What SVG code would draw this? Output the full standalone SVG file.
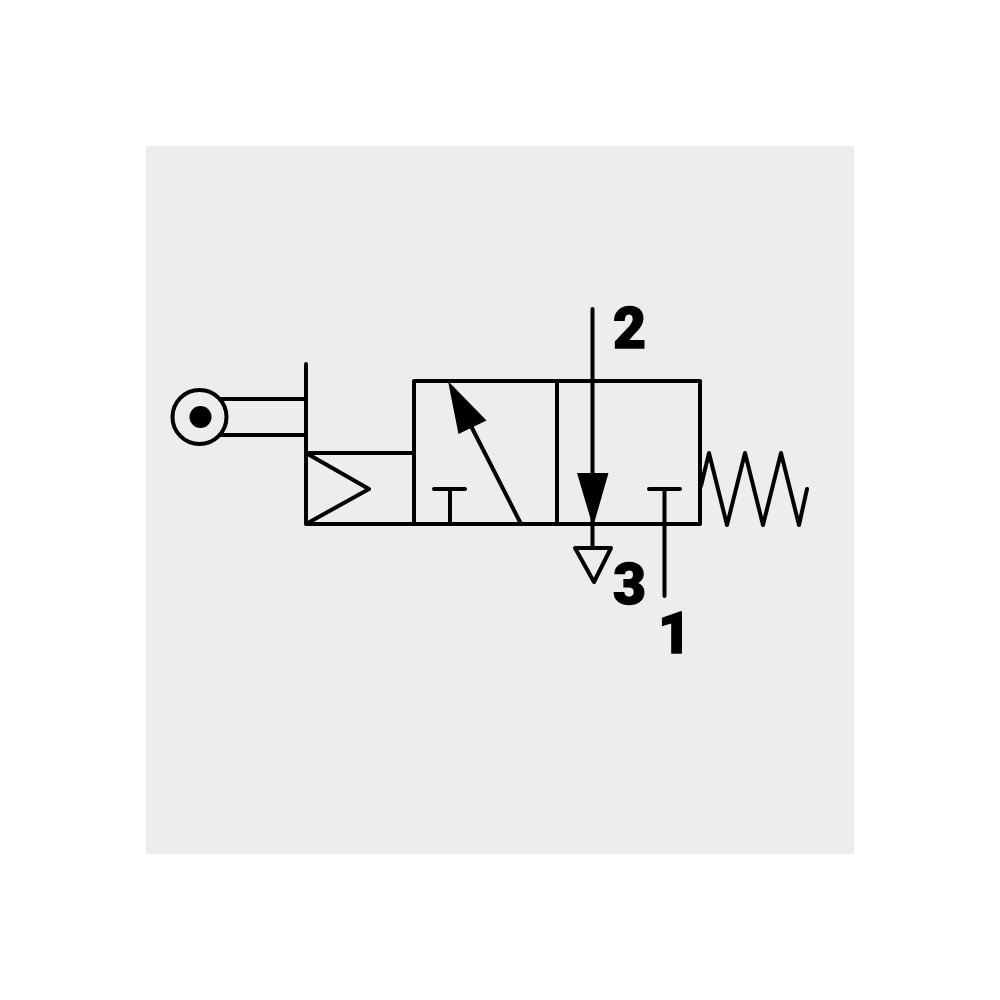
<svg xmlns="http://www.w3.org/2000/svg" width="1000" height="1000" viewBox="0 0 1000 1000">
<style>
.l{fill:none;stroke:#000;stroke-width:4;stroke-linecap:round;stroke-linejoin:round}
.f{fill:#000;stroke:none}
.n{font-family:Roboto,"Liberation Sans",Arial,sans-serif;font-weight:900;font-size:57px;fill:#000;text-anchor:middle;stroke:#000;stroke-width:1.4}
</style>
<rect width="1000" height="1000" fill="#fff"/>
<rect x="146" y="146" width="708" height="708" fill="#ededed"/>
<g id="roller">
<circle class="l" cx="199.500" cy="417" r="27"/>
<circle class="f" cx="200.500" cy="417" r="11"/>
<path class="l" d="M222 399H306M222 435H306"/>
</g>
<g id="actuator">
<path class="l" d="M306 364V524H414M306 453H414M306 453L369 489L306 524"/>
</g>
<g id="valve">
<path class="l" d="M414 524V381H700V524H414M557 381V524"/>
</g>
<g id="left-cell">
<path class="l" d="M434 489H465M450 489V524M521 524L470 424"/>
<path class="f" d="M448 381L486.500 420.500L458.500 434Z"/>
</g>
<g id="right-cell">
<path class="l" d="M649 489H680M664.500 489V596"/>
<path class="l" d="M592.500 309V548"/>
<path class="f" d="M577 473H608.500L593 527Z"/>
<path class="l" d="M575 548H611L594 582Z"/>
</g>
<g id="spring">
<path class="l" d="M701 486L709 453L727 525L745 453L763 525L781 453L799 525L807 489"/>
</g>
<g id="labels">
<text class="n" x="629.500" y="347.500">2</text>
<text class="n" x="629.500" y="604">3</text>
<text class="n" x="674.500" y="652.500">1</text>
</g>
</svg>
